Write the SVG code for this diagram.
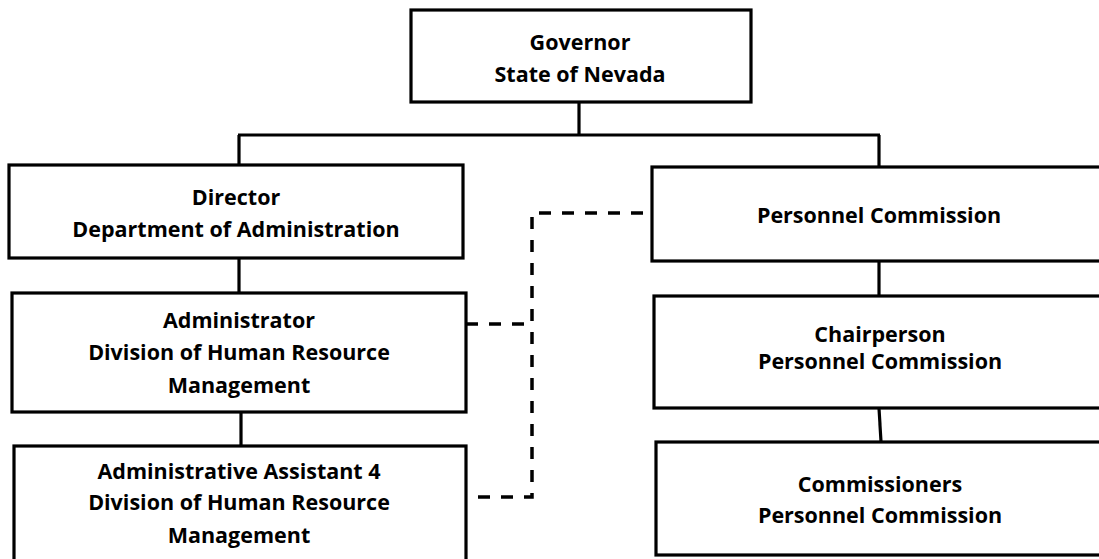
<svg xmlns="http://www.w3.org/2000/svg" width="1099" height="559" viewBox="0 0 1099 559">
<style>
.box{fill:#fff;stroke:#000;stroke-width:3.2}
.ln{fill:none;stroke:#000;stroke-width:3.2}
.dash{fill:none;stroke:#000;stroke-width:3.5;stroke-dasharray:12 11}
text{font-family:"Open Sans","DejaVu Sans",sans-serif;font-weight:bold;font-size:21.5px;text-anchor:middle;fill:#000}
</style>
<rect width="1099" height="559" fill="#fff"/>
<g id="connectors">
<line class="ln" x1="579" y1="102" x2="579" y2="135"/>
<line class="ln" x1="238" y1="135" x2="880" y2="135"/>
<line class="ln" x1="239" y1="135" x2="239" y2="165"/>
<line class="ln" x1="879" y1="135" x2="879" y2="167"/>
<line class="ln" x1="239" y1="258" x2="239" y2="293"/>
<line class="ln" x1="241" y1="412" x2="241" y2="446"/>
<line class="ln" x1="879" y1="261" x2="879" y2="296"/>
<line class="ln" x1="879" y1="408" x2="881" y2="442"/>
<polyline class="dash" points="643,213 532,213 532,497 466,497"/>
<line class="dash" x1="466" y1="324" x2="532" y2="324"/>
</g>
<g id="governor">
<rect class="box" x="411" y="10" width="340" height="92"/>
<text x="580" y="50">Governor</text>
<text x="580" y="82">State of Nevada</text>
</g>
<g id="director">
<rect class="box" x="9" y="165" width="454" height="93"/>
<text x="236" y="205">Director</text>
<text x="236" y="237">Department of Administration</text>
</g>
<g id="administrator">
<rect class="box" x="12" y="293" width="454" height="119"/>
<text x="239" y="328">Administrator</text>
<text x="239" y="360">Division of Human Resource</text>
<text x="239" y="393">Management</text>
</g>
<g id="assistant">
<rect class="box" x="14" y="446" width="452" height="130"/>
<text x="239" y="479">Administrative Assistant 4</text>
<text x="239" y="510">Division of Human Resource</text>
<text x="239" y="543">Management</text>
</g>
<g id="personnel-commission">
<rect class="box" x="652" y="167" width="470" height="94"/>
<text x="879" y="223">Personnel Commission</text>
</g>
<g id="chairperson">
<rect class="box" x="654" y="296" width="470" height="112"/>
<text x="880" y="342">Chairperson</text>
<text x="880" y="369">Personnel Commission</text>
</g>
<g id="commissioners">
<rect class="box" x="656" y="442" width="470" height="113"/>
<text x="880" y="492">Commissioners</text>
<text x="880" y="523">Personnel Commission</text>
</g>
</svg>
